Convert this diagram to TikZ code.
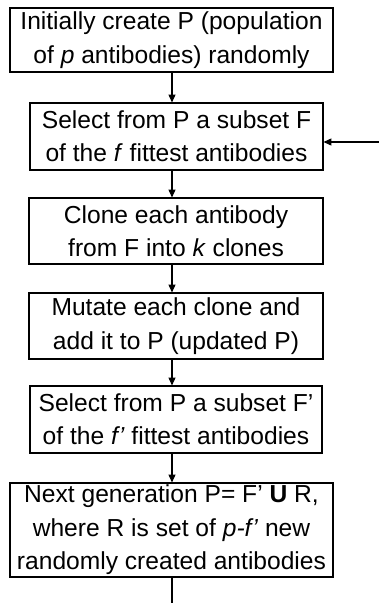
\documentclass[tikz,border=0pt]{standalone}
\usepackage{fontspec}
\setmainfont{Liberation Sans}
\usetikzlibrary{arrows.meta}
\tikzset{
  procbox/.style={draw, line width=0.6pt, align=center, inner sep=0pt,
    font=\fontsize{14}{19}\selectfont},
  flow/.style={line width=0.6pt, -{Triangle[length=4.5pt,width=4pt]}}
}
\begin{document}
\begin{tikzpicture}[x=0.02cm,y=-0.02cm]
  \useasboundingbox[fill=white] (0,0) rectangle (379,603);
  % boxes, centre / width / height in pixels
  \node[procbox, minimum width=323*0.02cm, minimum height=64*0.02cm] (init) at (171.5,40)
    {Initially create P (population\\ of \textit{p} antibodies) randomly};
  \node[procbox, minimum width=293*0.02cm, minimum height=67*0.02cm] (selF) at (176.5,136.5)
    {Select from P a subset F\\ of the \textit{f} fittest antibodies};
  \node[procbox, minimum width=294*0.02cm, minimum height=66*0.02cm] (clone) at (176,231)
    {Clone each antibody\\ from F into \textit{k} clones};
  \node[procbox, minimum width=294*0.02cm, minimum height=66*0.02cm] (mutate) at (176,326)
    {Mutate each clone and\\ add it to P (updated P)};
  \node[procbox, minimum width=292*0.02cm, minimum height=67*0.02cm] (selFp) at (176,419.5)
    {Select from P a subset F’\\ of the \textit{f’} fittest antibodies};
  \node[procbox, minimum width=323*0.02cm, minimum height=94*0.02cm] (next) at (171.5,530)
    {Next generation P= F’ \textbf{U} R,\\ where R is set of \textit{p-f’} new\\ randomly created antibodies};
  % arrows down the column
  \coordinate (axis) at (172,0);
  \foreach \A/\B in {init/selF,selF/clone,clone/mutate,mutate/selFp,selFp/next}
    \draw[flow] (axis |- \A.south) -- (axis |- \B.north);
  % loose ends of the loop
  \coordinate (loopin) at (379,142);
  \coordinate (loopout) at (172,603);
  \draw[flow] (loopin) -- (loopin -| selF.east);
  \draw[line width=0.6pt] (axis |- next.south) -- (loopout);
\end{tikzpicture}
\end{document}
